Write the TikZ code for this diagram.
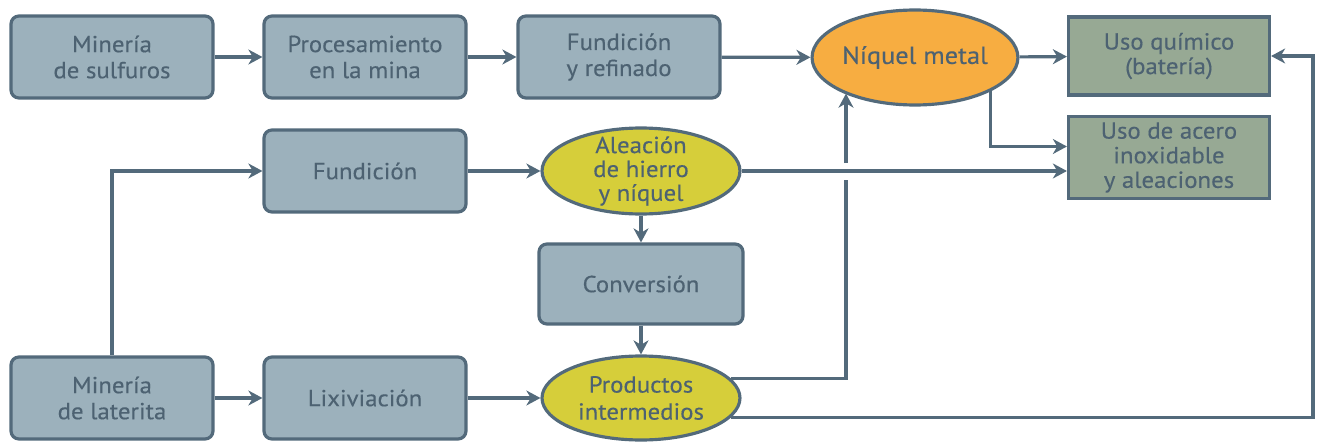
\documentclass[tikz,border=0pt]{standalone}
\usepackage{fontspec}
\setmainfont{PT Sans}[FakeStretch=1.07, FakeBold=0.3]
\usetikzlibrary{arrows.meta,shapes.geometric,calc}
\tikzset{>={Stealth[length=8pt,width=8.5pt,inset=2.5pt]}}

\definecolor{pizarra}{HTML}{536A7B}
\definecolor{textogris}{HTML}{4D6272}
\definecolor{azulcaja}{HTML}{9CB1BC}
\definecolor{verdecaja}{HTML}{97A994}
\definecolor{amarillo}{HTML}{D6CE3A}
\definecolor{naranja}{HTML}{F7AD41}

\newcommand{\letraelipse}{\fontsize{13.2}{13.6}\selectfont\lineskiplimit -6pt\relax}

\tikzset{
  paso/.style={draw=pizarra, line width=1.8pt, fill=azulcaja, rounded corners=4.5pt,
    minimum width=4.04cm, minimum height=1.64cm, align=center, text=textogris,
    font=\fontsize{13.2}{14.8}\selectfont},
  uso/.style={draw=pizarra, line width=1.8pt, fill=verdecaja,
    minimum width=4.02cm, minimum height=1.56cm, align=center, text=textogris,
    font=\fontsize{13.2}{14}\selectfont},
  elipse/.style={ellipse, draw=pizarra, line width=1.8pt, fill=amarillo,
    inner xsep=0pt, inner ysep=-3pt, minimum width=3.96cm, minimum height=1.72cm,
    align=center, text=textogris, font=\letraelipse},
  flecha/.style={->, draw=pizarra, line width=1.8pt}
}

\begin{document}
\begin{tikzpicture}[x=0.02cm, y=-0.02cm]
  \useasboundingbox (0,0) rectangle (1323,443);

  % sulphide route
  \node[paso] (sulf) at (112,57) {Minería\\de sulfuros};
  \node[paso] (proc) at (365,57) {Procesamiento\\en la mina};
  \node[paso] (refin) at (619,57) {Fundición\\y refinado};
  \node[elipse, fill=naranja, minimum width=4.04cm, minimum height=1.9cm,
    font=\fontsize{14}{15}\selectfont] (metal) at (915,57.5) {Níquel metal};

  % end uses
  \node[uso] (quim) at (1169,56) {Uso químico\\(batería)};
  \node[uso, minimum height=1.52cm] (acero) at (1169,157.5) {Uso de acero\\inoxidable\\y aleaciones};

  % laterite route
  \node[paso] (fund) at (365,171) {Fundición};
  \node[elipse] (aleac) at (641,171) {Aleación\\de hierro\\y níquel};
  \node[paso, minimum width=4.08cm, minimum height=1.6cm] (conv) at (641,284) {Conversión};
  \node[paso] (lat) at (112,398) {Minería\\de laterita};
  \node[paso] (lix) at (365,398) {Lixiviación};
  \node[elipse, minimum height=1.68cm, font=\fontsize{13.2}{15.4}\selectfont] (prod) at (641,398) {Productos\\intermedios};

  \coordinate (cruce) at (846,171);
  \coordinate (retorno) at (1313,0);

  % connectors
  \draw[flecha] (sulf) -- (proc);
  \draw[flecha] (proc) -- (refin);
  \draw[flecha] (refin) -- (metal);
  \draw[flecha] (metal) -- (quim);
  \draw[flecha] (metal.-24) |- ($(acero.west)+(0,-11)$);
  \draw[flecha] (lat.north) |- (fund.west);
  \draw[flecha] (fund) -- (aleac);
  \draw[flecha] (aleac.east) -- (aleac.east -| acero.west);
  \draw[flecha] (aleac) -- (conv);
  \draw[flecha] (conv) -- (prod);
  \draw[flecha] (lat) -- (lix);
  \draw[flecha] (lix) -- (prod);
  \draw[pizarra, line width=1.8pt] (prod.12) -| ($(cruce)+(0,9)$);
  \draw[flecha] ($(cruce)+(0,-8)$) -- (cruce |- metal.207);
  \draw[flecha] (prod.-12) -| (retorno |- quim.east) -- (quim.east);
\end{tikzpicture}
\end{document}
